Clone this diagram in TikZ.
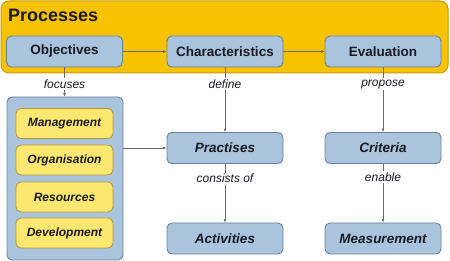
\documentclass[tikz,border=0pt]{standalone}
\usepackage{fontspec}
\setmainfont{Liberation Sans}
\usetikzlibrary{arrows.meta}
\definecolor{boxblue}{HTML}{A9C4DC}
\definecolor{boxedge}{HTML}{6F8294}
\definecolor{outyellow}{HTML}{F7C200}
\definecolor{outedge}{HTML}{C89B00}
\definecolor{inyellow}{HTML}{FCE870}
\definecolor{inedge}{HTML}{B39536}
\definecolor{txt}{HTML}{1A1A24}
\definecolor{conn}{HTML}{6A6A6A}
\tikzset{
  bluebox/.style={draw=boxedge, line width=0.9pt, fill=boxblue, rounded corners=5pt,
    minimum width=116pt, minimum height=31pt, inner sep=0pt, text=txt, font=\fontsize{13.5}{15}\selectfont\bfseries},
  bluebi/.style={bluebox, font=\fontsize{13.5}{15}\selectfont\bfseries\itshape},
  innerbox/.style={draw=inedge, line width=0.8pt, fill=inyellow, rounded corners=5pt,
    minimum width=97pt, minimum height=30pt, inner sep=0pt, text=txt, font=\fontsize{12}{14}\selectfont\bfseries\itshape},
  lbl/.style={fill=white, inner sep=1.5pt, text=txt, font=\fontsize{12}{14}\selectfont\itshape},
  conn/.style={draw=conn, line width=0.6pt, -{Latex[length=3.5pt,width=3pt]}}
}
\begin{document}
\begin{tikzpicture}[x=1pt,y=-1pt]
\useasboundingbox (0,0) rectangle (450,261);
\node[draw=outedge, line width=1pt, fill=outyellow, rounded corners=8pt, minimum width=447pt, minimum height=72pt, inner sep=0pt] (proc) at (224.5,37) {};
\node[anchor=west, text=txt, font=\fontsize{18}{20}\selectfont\bfseries, inner sep=0pt] (proct) at (8,15.5) {Processes};
\node[bluebox] (obj) at (64.5,51.5) {Objectives};
\node[bluebox] (char) at (225,51.5) {Characteristics};
\node[bluebox] (eval) at (383,51.5) {Evaluation};
\node[bluebox, minimum height=163pt] (left) at (65,178.5) {};
\node[innerbox] (man) at (64.5,123.5) {Management};
\node[innerbox] (org) at (64.5,160) {Organisation};
\node[innerbox] (res) at (64.5,197) {Resources};
\node[innerbox] (dev) at (64.5,233) {Development};
\node[bluebi] (prac) at (225,148) {Practises};
\node[bluebi] (crit) at (383,148) {Criteria};
\node[bluebi] (act) at (225,238.5) {Activities};
\node[bluebi] (meas) at (383,238.5) {Measurement};
\draw[conn] (obj) -- (char);
\draw[conn] (char) -- (eval);
\draw[conn] (obj.south) -- node[lbl, pos=0.57] {focuses} (left.north -| obj.south);
\draw[conn] (char) -- node[lbl, pos=0.26] {define} (prac);
\draw[conn] (eval) -- node[lbl, pos=0.26] {propose} (crit);
\draw[conn] (left.east |- prac) -- (prac);
\draw[conn] (prac) -- node[lbl, pos=0.25] {consists of} (act);
\draw[conn] (crit) -- node[lbl, pos=0.22] {enable} (meas);
\end{tikzpicture}
\end{document}
